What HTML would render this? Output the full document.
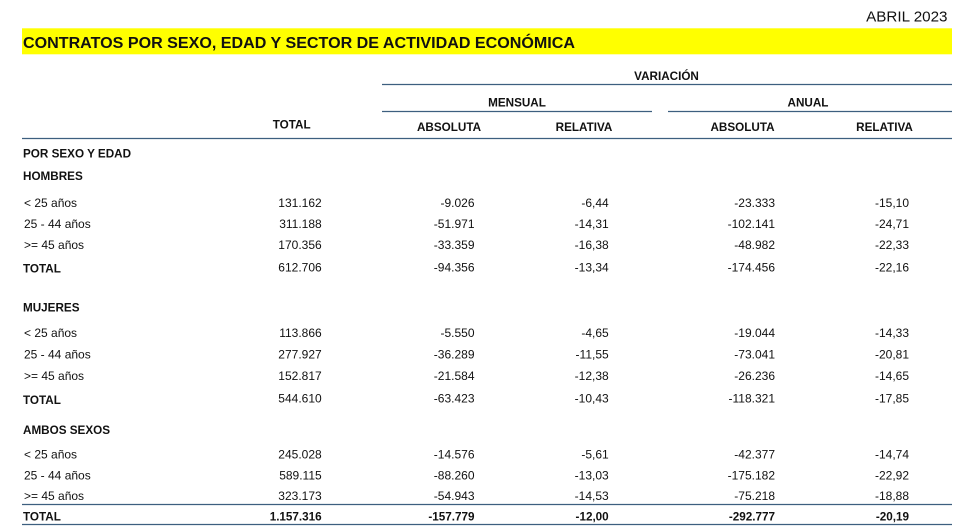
<!DOCTYPE html>
<html>
<head>
<meta charset="utf-8">
<style>
html,body{margin:0;padding:0;background:#fff;}
svg{display:block;}
text{font-family:"Liberation Sans",Arial,sans-serif;fill:#111;}
.b{font-weight:bold;font-size:11.7px;}
.n{font-size:12px;}
.e{text-anchor:end;}
.m{text-anchor:middle;}
</style>
</head>
<body>
<svg width="961" height="530" viewBox="0 0 961 530" xmlns="http://www.w3.org/2000/svg">
<rect width="961" height="530" fill="#fff"/>
<text x="947.5" y="21.5" class="e" style="font-size:15.2px">ABRIL 2023</text>
<rect x="22" y="28.3" width="930" height="26" fill="#ffff00"/>
<text x="23" y="48" style="font-size:16px;font-weight:bold" textLength="552" lengthAdjust="spacingAndGlyphs">CONTRATOS POR SEXO, EDAD Y SECTOR DE ACTIVIDAD ECONÓMICA</text>

<g stroke="#3d5f7f" stroke-width="1.2">
<line x1="382" y1="84.5" x2="952" y2="84.5"/>
<line x1="382" y1="111.5" x2="652" y2="111.5"/>
<line x1="668" y1="111.5" x2="952" y2="111.5"/>
<line x1="22" y1="138.5" x2="952" y2="138.5"/>
<line x1="22" y1="504.5" x2="952" y2="504.5"/>
<line x1="22" y1="524.5" x2="952" y2="524.5"/>
</g>

<text x="666.5" y="80" class="b m">VARIACIÓN</text>
<text x="517" y="106.7" class="b m">MENSUAL</text>
<text x="808" y="106.7" class="b m">ANUAL</text>
<text x="291.7" y="128.3" class="b m">TOTAL</text>
<text x="449" y="131" class="b m">ABSOLUTA</text>
<text x="584" y="131" class="b m">RELATIVA</text>
<text x="742.5" y="131" class="b m">ABSOLUTA</text>
<text x="884.5" y="131" class="b m">RELATIVA</text>

<text x="23" y="157.5" class="b">POR SEXO Y EDAD</text>
<text x="23" y="180" class="b">HOMBRES</text>

<g class="n">
<text x="24" y="207">&lt; 25 años</text>
<text x="24" y="228">25 - 44 años</text>
<text x="24" y="249">&gt;= 45 años</text>
</g>
<text x="23" y="272.5" class="b">TOTAL</text>
<g class="n e">
<text x="321.7" y="207">131.162</text><text x="474.5" y="207">-9.026</text><text x="608.7" y="207">-6,44</text><text x="775" y="207">-23.333</text><text x="909" y="207">-15,10</text>
<text x="321.7" y="228">311.188</text><text x="474.5" y="228">-51.971</text><text x="608.7" y="228">-14,31</text><text x="775" y="228">-102.141</text><text x="909" y="228">-24,71</text>
<text x="321.7" y="249">170.356</text><text x="474.5" y="249">-33.359</text><text x="608.7" y="249">-16,38</text><text x="775" y="249">-48.982</text><text x="909" y="249">-22,33</text>
<text x="321.7" y="271.5">612.706</text><text x="474.5" y="271.5">-94.356</text><text x="608.7" y="271.5">-13,34</text><text x="775" y="271.5">-174.456</text><text x="909" y="271.5">-22,16</text>
</g>

<text x="23" y="311.7" class="b">MUJERES</text>
<g class="n">
<text x="24" y="337">&lt; 25 años</text>
<text x="24" y="358.3">25 - 44 años</text>
<text x="24" y="380">&gt;= 45 años</text>
</g>
<text x="23" y="404" class="b">TOTAL</text>
<g class="n e">
<text x="321.7" y="337">113.866</text><text x="474.5" y="337">-5.550</text><text x="608.7" y="337">-4,65</text><text x="775" y="337">-19.044</text><text x="909" y="337">-14,33</text>
<text x="321.7" y="358.3">277.927</text><text x="474.5" y="358.3">-36.289</text><text x="608.7" y="358.3">-11,55</text><text x="775" y="358.3">-73.041</text><text x="909" y="358.3">-20,81</text>
<text x="321.7" y="380">152.817</text><text x="474.5" y="380">-21.584</text><text x="608.7" y="380">-12,38</text><text x="775" y="380">-26.236</text><text x="909" y="380">-14,65</text>
<text x="321.7" y="402.5">544.610</text><text x="474.5" y="402.5">-63.423</text><text x="608.7" y="402.5">-10,43</text><text x="775" y="402.5">-118.321</text><text x="909" y="402.5">-17,85</text>
</g>

<text x="23" y="434" class="b">AMBOS SEXOS</text>
<g class="n">
<text x="24" y="458.3">&lt; 25 años</text>
<text x="24" y="479.3">25 - 44 años</text>
<text x="24" y="500">&gt;= 45 años</text>
</g>
<g class="n e">
<text x="321.7" y="458.3">245.028</text><text x="474.5" y="458.3">-14.576</text><text x="608.7" y="458.3">-5,61</text><text x="775" y="458.3">-42.377</text><text x="909" y="458.3">-14,74</text>
<text x="321.7" y="479.3">589.115</text><text x="474.5" y="479.3">-88.260</text><text x="608.7" y="479.3">-13,03</text><text x="775" y="479.3">-175.182</text><text x="909" y="479.3">-22,92</text>
<text x="321.7" y="500">323.173</text><text x="474.5" y="500">-54.943</text><text x="608.7" y="500">-14,53</text><text x="775" y="500">-75.218</text><text x="909" y="500">-18,88</text>
</g>
<text x="23" y="520.7" class="b">TOTAL</text>
<g class="b e">
<text x="321.7" y="520.7">1.157.316</text><text x="474.5" y="520.7">-157.779</text><text x="608.7" y="520.7">-12,00</text><text x="775" y="520.7">-292.777</text><text x="909" y="520.7">-20,19</text>
</g>
</svg>
</body>
</html>
